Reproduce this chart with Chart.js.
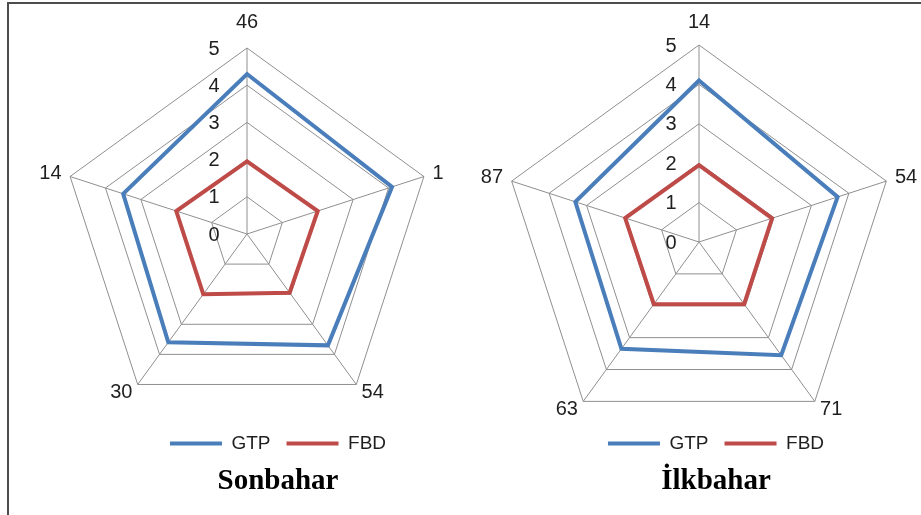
<!DOCTYPE html>
<html>
<head>
<meta charset="utf-8">
<script src="https://cdn.jsdelivr.net/npm/chart.js@4/dist/chart.umd.min.js"></script>
<style>
  html, body { margin: 0; padding: 0; background: #fff; width: 921px; height: 515px; overflow: hidden; position: relative; }
  .frame { position: absolute; left: 7px; top: 2px; width: 940px; height: 540px; border-left: 2px solid #4d4d4d; border-top: 2px solid #4d4d4d; }
  .panel { position: absolute; }
</style>
</head>
<body>
<div class="frame"></div>
<div class="panel" style="left:-2px;top:-6px;width:560px;height:514px"><canvas id="autumnChart"></canvas></div>
<div class="panel" style="left:476px;top:-4px;width:480px;height:512px"><canvas id="springChart"></canvas></div>

<script>
// ---- data ----
const seriesNames = ['GTP', 'FBD'];
const seriesColors = ['#4a7ebb', '#be4b48'];
const tickValues = [0, 1, 2, 3, 4, 5];

const autumnLabels = ['46', '1', '54', '30', '14'];
const autumnGTP = [4.3, 4.1, 3.7, 3.6, 3.5];
const autumnFBD = [1.95, 2.0, 1.95, 2.0, 2.0];

const springLabels = ['14', '54', '71', '63', '87'];
const springGTP = [4.1, 3.7, 3.55, 3.35, 3.3];
const springFBD = [1.95, 1.95, 1.95, 1.95, 1.97];

const SANS = '"Liberation Sans", Arial, sans-serif';
const SERIF = '"Liberation Serif", "Times New Roman", serif';
const TEXT = '#1f1f1f';
const GRID = '#8f8f8f';

// tick numbers sit left of the vertical axis (Excel style)
const sideTicks = {
  id: 'sideTicks',
  afterDatasetsDraw(chart, args, opts) {
    const scale = chart.scales.r;
    const ctx = chart.ctx;
    ctx.save();
    ctx.font = '20px ' + SANS;
    ctx.fillStyle = TEXT;
    ctx.textAlign = 'center';
    ctx.textBaseline = 'middle';
    tickValues.forEach(v => {
      const p = scale.getPointPositionForValue(0, v);
      ctx.fillText(String(v), p.x - opts.offset, p.y + 1);
    });
    ctx.restore();
  }
};

// let the radar use the empty room beside the legend, centred where wanted
function placeScale(cx, halfW, extendBottom) {
  return (scale) => {
    scale.left = cx - halfW;
    scale.right = cx + halfW;
    scale.bottom += extendBottom;
    scale.width = scale.right - scale.left;
    scale.height = scale.bottom - scale.top;
    scale.xCenter = Math.floor(scale.left + scale.width / 2);
    scale.yCenter = Math.floor(scale.top + scale.height / 2);
    scale.drawingArea = Math.floor(Math.min(scale.width, scale.height) / 2);
  };
}

function makeRadar(id, title, labels, gtp, fbd, cfg) {
  const ctx = document.getElementById(id).getContext('2d');
  return new Chart(ctx, {
    type: 'radar',
    data: {
      labels: labels,
      datasets: [gtp, fbd].map((vals, i) => ({
        label: seriesNames[i],
        data: vals,
        borderColor: seriesColors[i],
        backgroundColor: seriesColors[i],
        borderWidth: 4,
        borderCapStyle: 'round',
        borderJoinStyle: 'miter',
        fill: false,
        pointRadius: 0,
        pointHoverRadius: 0
      }))
    },
    options: {
      responsive: true,
      maintainAspectRatio: false,
      animation: false,
      devicePixelRatio: 1,
      layout: { padding: 0 },
      scales: {
        r: {
          min: 0,
          max: 5,
          ticks: { display: false, stepSize: 1 },
          grid: { color: GRID, lineWidth: 1 },
          angleLines: { color: GRID, lineWidth: 1 },
          pointLabels: {
            // top label sits above its corner, the others level with theirs
            font: (c) => ({ family: SANS, size: 20, lineHeight: c.index === 0 ? 1 : 0.05 }),
            color: TEXT,
            padding: (c) => (c.index === 0 ? cfg.topPad : 9)
          },
          afterSetDimensions: placeScale(cfg.cx, cfg.halfW, cfg.extend)
        }
      },
      plugins: {
        legend: {
          position: 'bottom',
          labels: {
            usePointStyle: true,
            pointStyle: 'line',
            pointStyleWidth: 52,
            font: { family: SANS, size: 19 },
            color: TEXT,
            padding: 16
          }
        },
        title: {
          display: true,
          text: title,
          position: 'bottom',
          color: '#000',
          font: { family: SERIF, size: 29, weight: 'bold', lineHeight: 1 },
          padding: { top: 4, bottom: 12 }
        },
        tooltip: { enabled: false },
        sideTicks: { offset: cfg.tickOffset }
      }
    },
    plugins: [sideTicks]
  });
}

makeRadar('autumnChart', 'Sonbahar', autumnLabels, autumnGTP, autumnFBD,
  { topPad: 16, cx: 249, halfW: 250, extend: 20, tickOffset: 33 });
makeRadar('springChart', 'İlkbahar', springLabels, springGTP, springFBD,
  { topPad: 13, cx: 223, halfW: 260, extend: 38, tickOffset: 28 });
</script>
</body>
</html>
